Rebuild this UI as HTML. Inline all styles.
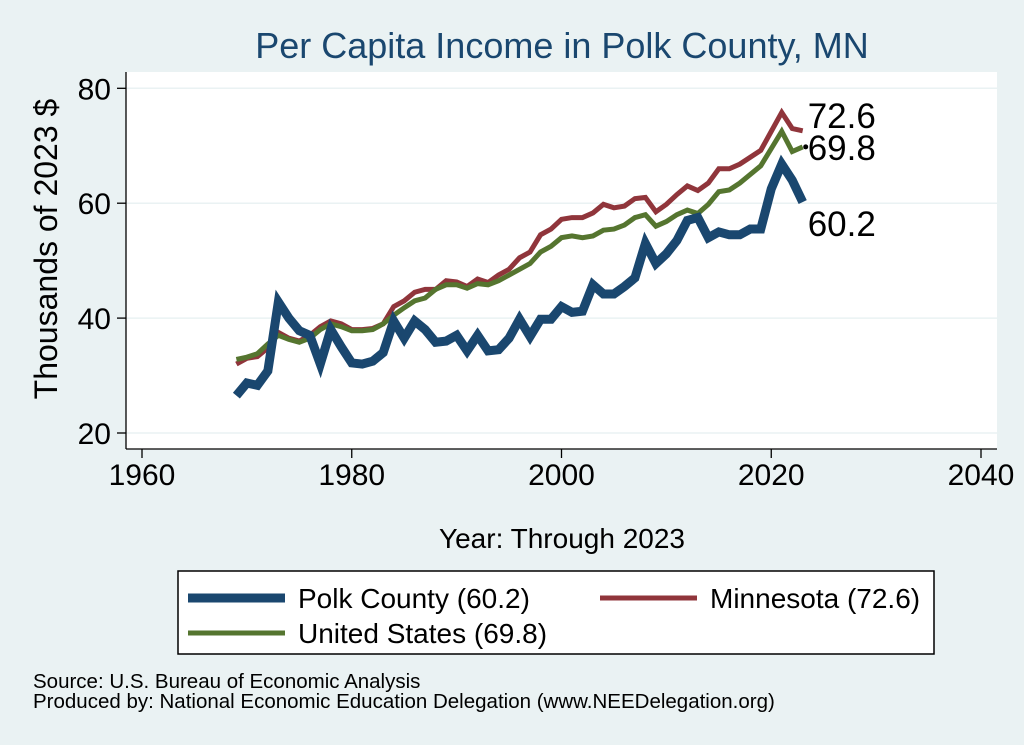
<!DOCTYPE html>
<html><head><meta charset="utf-8"><style>
body{margin:0;background:#eaf2f3;font-family:"Liberation Sans",sans-serif}
svg{display:block}
</style></head><body>
<svg width="1024" height="745" xmlns="http://www.w3.org/2000/svg">
<rect x="0" y="0" width="1024" height="745" fill="#eaf2f3"/>
<rect x="126" y="72" width="871" height="377" fill="#fff"/>
<text x="562" y="58" text-anchor="middle" font-size="36" fill="#1a476f">Per Capita Income in Polk County, MN</text>
<g id="grid"></g>
<g id="series"></g>
<g id="axes"></g>
<text transform="translate(57,249) rotate(-90)" text-anchor="middle" font-size="32">Thousands of 2023 $</text>
<text x="562" y="548" text-anchor="middle" font-size="28">Year: Through 2023</text>
<g>
<rect x="178" y="571" width="756" height="83" fill="#fff" stroke="#000" stroke-width="1.5"/>
<line x1="188" y1="598" x2="285" y2="598" stroke="#1a476f" stroke-width="9"/>
<text x="298" y="608" font-size="28">Polk County (60.2)</text>
<line x1="600" y1="598" x2="697" y2="598" stroke="#90353b" stroke-width="5"/>
<text x="710" y="608" font-size="28">Minnesota (72.6)</text>
<line x1="188" y1="633" x2="285" y2="633" stroke="#55752f" stroke-width="5"/>
<text x="298" y="643" font-size="28">United States (69.8)</text>
</g>
<text x="33" y="688" font-size="20.5">Source: U.S. Bureau of Economic Analysis</text>
<text x="33" y="708" font-size="20.5">Produced by: National Economic Education Delegation (www.NEEDelegation.org)</text>
</svg>
<script>
const years=[];for(let y=1969;y<=2023;y++)years.push(y);
const polk=[26.5,28.7,28.3,30.8,42.8,40,37.8,37,32,38,35,32.2,32,32.5,34,39.5,36.5,39.5,38,35.8,36,37,34.3,37,34.3,34.5,36.5,39.8,36.8,39.8,39.8,42,41,41.2,45.8,44.2,44.2,45.5,47,53,49.5,51.2,53.5,57,57.5,54,55,54.5,54.5,55.5,55.5,62.5,66.8,64,60.2];
const mn=[32,33,33.3,34.8,37.5,36.5,36,37,38.5,39.5,39,38,38,38.2,39,42,43,44.5,45,45,46.5,46.3,45.5,46.8,46.2,47.5,48.5,50.5,51.5,54.5,55.5,57.2,57.5,57.5,58.3,59.8,59.2,59.5,60.8,61,58.5,59.8,61.5,63,62.2,63.5,66,66,66.8,68,69.2,72.5,75.8,73,72.6];
const us=[32.8,33.2,33.8,35.5,37,36.3,35.8,36.5,38,39,38.5,37.8,37.8,38,39,40.5,41.8,43,43.5,45,45.8,45.8,45.2,46,45.8,46.5,47.5,48.5,49.5,51.5,52.5,54,54.3,54,54.3,55.3,55.5,56.2,57.5,58,56,56.8,58,58.8,58.2,59.8,62,62.3,63.5,65,66.5,69.5,72.5,69,69.8];
const xTicks=[1960,1980,2000,2020,2040];
const yTicks=[20,40,60,80];
const xs=y=>142+(y-1960)*(981-142)/80;
const ys=v=>433-(v-20)*(433-88.3)/60;
const NS='http://www.w3.org/2000/svg';
function mk(tag,attrs,parent){const e=document.createElementNS(NS,tag);for(const k in attrs)e.setAttribute(k,attrs[k]);parent.appendChild(e);return e;}
const grid=document.getElementById('grid'),ser=document.getElementById('series'),ax=document.getElementById('axes');
yTicks.forEach(t=>{
 const g=mk('line',{x1:126,x2:997,y1:ys(t),y2:ys(t),stroke:'#eaf2f3','stroke-width':1.5},grid);
 
 
 const tk=mk('line',{x1:117,x2:126,y1:ys(t),y2:ys(t),stroke:'#000','stroke-width':1.3},ax);
 
 
 const tx=mk('text',{x:111,y:ys(t)+11,'text-anchor':'end','font-size':30},ax);tx.textContent=t;
 
 
});
xTicks.forEach(t=>{
 const tk=mk('line',{x1:xs(t),x2:xs(t),y1:449,y2:458,stroke:'#000','stroke-width':1.3},ax);
 
 
 const tx=mk('text',{x:xs(t),y:485,'text-anchor':'middle','font-size':30},ax);tx.textContent=t;
 
 
});
const al=mk('line',{x1:126,x2:126,y1:72,y2:449,stroke:'#000','stroke-width':1.3},ax);


const bl=mk('line',{x1:126,x2:997,y1:449,y2:449,stroke:'#000','stroke-width':1.3},ax);


function line(vals,color,w,name){
 const p=mk('polyline',{points:vals.map((v,i)=>xs(years[i])+','+ys(v)).join(' '),fill:'none',stroke:color,'stroke-width':w,'stroke-linejoin':'miter'},ser);
 
 
}
line(mn,'#90353b',5,'line-minnesota');
line(us,'#55752f',5,'line-united-states');
line(polk,'#1a476f',9,'line-polk-county');
const last=years.length-1,lx=xs(years[last]);
const labs=[[mn[last],ys(mn[last])-3,'label-mn-last'],[us[last],ys(us[last])+13,'label-us-last'],[polk[last],ys(polk[last])+34,'label-polk-last']];
labs.forEach(l=>{const t=mk('text',{x:lx+5,y:l[1],'font-size':35},ser);t.textContent=l[0].toFixed(1);
 
 });
const d=mk('circle',{cx:lx+3,cy:ys(us[last]),r:2.5,fill:'#000'},ser);


</script>
</body></html>
